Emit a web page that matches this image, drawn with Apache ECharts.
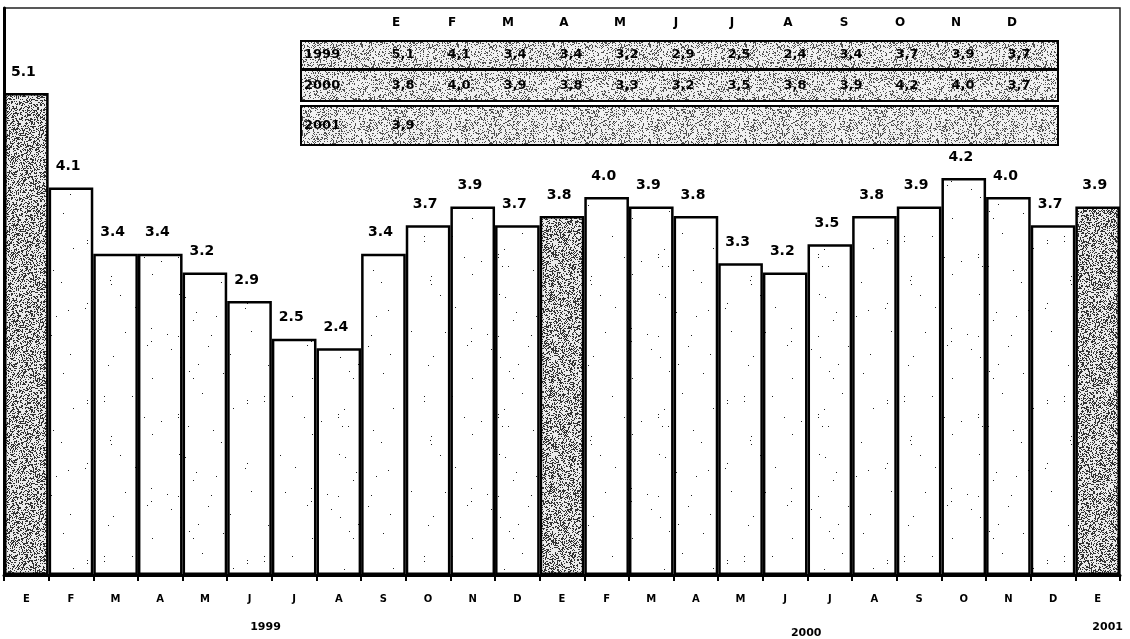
<!DOCTYPE html>
<html><head><meta charset="utf-8">
<script src="https://cdn.jsdelivr.net/npm/echarts@6/dist/echarts.min.js"></script>
<style>html,body{margin:0;padding:0;background:#fff}#c{width:1130px;height:639px}</style>
</head><body><div id="c"></div>
<script>
// ---- data ----
const months = ['E','F','M','A','M','J','J','A','S','O','N','D','E','F','M','A','M','J','J','A','S','O','N','D','E'];
const years = ['1999','2000','2001'];
const yearLabelIndex = [5, 17, 24];
const values1999 = [5.1,4.1,3.4,3.4,3.2,2.9,2.5,2.4,3.4,3.7,3.9,3.7];
const values2000 = [3.8,4.0,3.9,3.8,3.3,3.2,3.5,3.8,3.9,4.2,4.0,3.7];
const values2001 = [3.9];
const tableMonths = ['E','F','M','A','M','J','J','A','S','O','N','D'];
const tableRows = [values1999, values2000, values2001];

// ---- textures (style only, deterministic) ----
function rng(seed){return function(){seed|=0;seed=seed+0x6D2B79F5|0;let t=Math.imul(seed^seed>>>15,1|seed);t=t+Math.imul(t^t>>>7,61|t)^t;return((t^t>>>14)>>>0)/4294967296;};}
function noise(size, prob, dark, light, seed){
  const c=document.createElement('canvas');c.width=size;c.height=size;
  const ctx=c.getContext('2d');const img=ctx.createImageData(size,size);const r=rng(seed);
  for(let i=0;i<size*size;i++){const v=r()<prob?dark:light;img.data[i*4]=v;img.data[i*4+1]=v;img.data[i*4+2]=v;img.data[i*4+3]=255;}
  ctx.putImageData(img,0,0);return c;
}
const grayPat = {image: noise(96,0.36,50,235,7), repeat:'repeat'};
const tablePat = {image: noise(96,0.24,80,240,11), repeat:'repeat'};
const dotPat = {image: noise(160,0.0018,30,255,3), repeat:'repeat'};

const allValues = values1999.concat(values2000, values2001);
const seriesData = allValues.map((v,i)=>({
  value: v,
  itemStyle: {color: months[i]==='E' ? grayPat : dotPat}
}));

// ---- table graphic ----
const FONT = '"DejaVu Sans", sans-serif';
const tLeft = 301, tWidth = 757, colX0 = 396, colStep = 56;
const rowBoxes = [[41,28],[70,31],[106,39]];
const g = [];
tableMonths.forEach((m,j)=>{
  g.push({type:'text', x: colX0+colStep*j, y: 23, style:{text:m, font:'bold 12px '+FONT, fill:'#000', align:'center', verticalAlign:'middle', textAlign:'center', textVerticalAlign:'middle'}});
});
tableRows.forEach((row,r)=>{
  const [y,h] = rowBoxes[r];
  g.push({type:'rect', shape:{x:tLeft, y:y, width:tWidth, height:h}, style:{fill:tablePat, stroke:'#000', lineWidth:2}});
  g.push({type:'text', x: tLeft+3, y: y+h/2, style:{text:years[r], font:'bold 13px '+FONT, fill:'#000', align:'left', verticalAlign:'middle', textAlign:'left', textVerticalAlign:'middle'}});
  row.forEach((v,j)=>{
    g.push({type:'text', x: colX0+colStep*j+7, y: y+h/2, style:{text:v.toFixed(1).replace('.',','), font:'bold 13px '+FONT, fill:'#000', align:'center', verticalAlign:'middle', textAlign:'center', textVerticalAlign:'middle'}});
  });
});

const chart = echarts.init(document.getElementById('c'), null, {renderer:'canvas'});
chart.setOption({
  animation:false,
  backgroundColor:'#fff',
  grid:{left:4, right:10, top:8, bottom:63, show:true, borderColor:'#222', borderWidth:1.5, containLabel:false},
  xAxis:[{
    type:'category', data: months, boundaryGap:true,
    axisLine:{show:true, lineStyle:{color:'#000', width:3}},
    axisTick:{show:true, length:6, lineStyle:{color:'#000', width:2}},
    axisLabel:{interval:0, margin:19, fontFamily:'DejaVu Sans', fontWeight:'bold', fontSize:10, color:'#000'}
  },{
    type:'category', data: months, position:'bottom', boundaryGap:true,
    axisLine:{show:false}, axisTick:{show:false}, splitLine:{show:false},
    axisLabel:{interval:0, margin:47, color:'#000',
      formatter:(val, idx)=>{const k=yearLabelIndex.indexOf(idx); return k<0?'':'{y'+k+'|'+years[k]+'}';},
      rich:{
        y0:{fontFamily:'DejaVu Sans', fontWeight:'bold', fontSize:11, color:'#000', padding:[0,0,0,32]},
        y1:{fontFamily:'DejaVu Sans', fontWeight:'bold', fontSize:11, color:'#000', padding:[6,0,0,42]},
        y2:{fontFamily:'DejaVu Sans', fontWeight:'bold', fontSize:11, color:'#000', padding:[0,0,0,20]}
      }}
  }],
  yAxis:{type:'value', min:0, max:6,
    axisLine:{show:true, lineStyle:{color:'#000', width:3}},
    axisTick:{show:false}, axisLabel:{show:false}, splitLine:{show:false}},
  series:[{
    type:'bar', data: seriesData, barCategoryGap:'0%', barWidth:'100%',
    itemStyle:{borderColor:'#000', borderWidth:2.5},
    label:{show:true, position:[7,-14], align:'left', verticalAlign:'bottom',
      formatter:p=>p.value.toFixed(1),
      fontFamily:'DejaVu Sans', fontWeight:'bold', fontSize:14, color:'#000'}
  }],
  graphic: g
});
</script></body></html>
